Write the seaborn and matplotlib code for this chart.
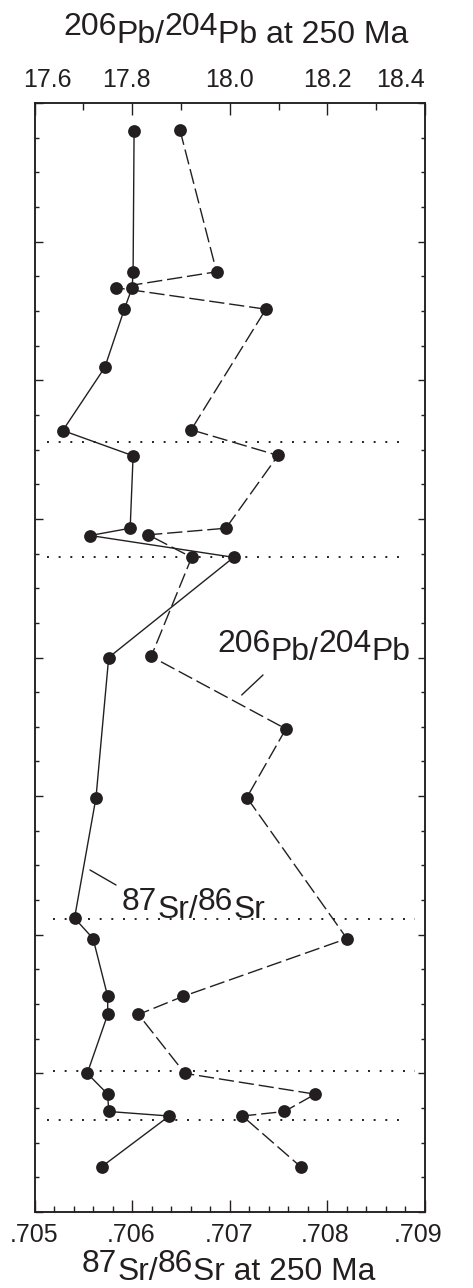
import matplotlib
matplotlib.use("Agg")
import matplotlib.pyplot as plt
from matplotlib.lines import Line2D
from matplotlib.ticker import MultipleLocator, FixedLocator
from matplotlib.transforms import ScaledTranslation
import seaborn as sns
import pandas as pd

# ---------------- data ----------------
sr_depth = [0.81, 4.87, 5.33, 5.95, 7.63, 9.45, 10.18, 12.27, 12.48, 13.11, 16.00,
            20.04, 23.52, 24.11, 25.78, 26.30, 28.00, 28.60, 29.10, 29.23, 30.69]
sr_ratio = [0.70602, 0.70601, 0.70600, 0.70592, 0.70572, 0.70529, 0.70601, 0.70598,
            0.70557, 0.70704, 0.70576, 0.70563, 0.70541, 0.70560, 0.70575, 0.70575,
            0.70554, 0.70575, 0.70576, 0.70638, 0.70569]

pb_depth = [0.78, 4.87, 5.33, 5.95, 9.43, 10.17, 12.27, 12.46, 13.11, 15.97, 18.06,
            20.04, 24.11, 25.78, 26.30, 28.00, 28.60, 29.10, 29.23, 30.69]
pb_ratio = [17.898, 17.973, 17.767, 18.074, 17.921, 18.099, 17.992, 17.833, 17.922,
            17.839, 18.115, 18.035, 18.240, 17.904, 17.813, 17.908, 18.175, 18.112,
            18.026, 18.145]

boundary_depths = [9.79, 13.11, 23.55, 27.92, 29.34]

sr_ticks = [0.705, 0.706, 0.707, 0.708, 0.709]
sr_tick_labels = [".705", ".706", ".707", ".708", ".709"]
pb_ticks = [17.6, 17.8, 18.0, 18.2, 18.4]
pb_tick_labels = ["17.6", "17.8", "18.0", "18.2", "18.4"]

# ---------------- style ----------------
sns.set_theme(style="white")
plt.rcParams["font.family"] = ["Liberation Sans", "DejaVu Sans"]
INK = "#231f20"
W, H = 473, 1288

fig = plt.figure(figsize=(W / 100, H / 100), dpi=100)
ax = fig.add_axes([34.5 / W, 1 - 1212 / H, 390.5 / W, (1212 - 103) / H])
ax2 = ax.twiny()
ax.set_zorder(ax2.get_zorder() + 1)
ax.patch.set_visible(False)

sr_df = pd.DataFrame({"sr": sr_ratio, "depth": sr_depth})
pb_df = pd.DataFrame({"pb": pb_ratio, "depth": pb_depth})

sns.lineplot(data=pb_df, x="pb", y="depth", sort=False, estimator=None, ax=ax2,
             color=INK, lw=1.0, ls=(0, (11, 3.5)), marker="o", ms=9.2,
             markeredgewidth=0, markerfacecolor=INK)
sns.lineplot(data=sr_df, x="sr", y="depth", sort=False, estimator=None, ax=ax,
             color=INK, lw=1.0, ls="-", marker="o", ms=9.2,
             markeredgewidth=0, markerfacecolor=INK)

spans = [(0.031, 0.956), (0.031, 0.956), (0.047, 0.974), (0.047, 0.974), (0.031, 0.956)]
for d, (x0, x1) in zip(boundary_depths, spans):
    ax.axhline(d, xmin=x0, xmax=x1, color=INK, lw=1.4, ls=(0, (1, 5)), zorder=1)

ax.set_xlim(0.705, 0.709)
ax2.set_xlim(17.6, 18.4)
ax.set_ylim(32, 0)
ax2.set_ylim(32, 0)

for a in (ax, ax2):
    a.set_xlabel("")
    a.set_ylabel("")
    for s in a.spines.values():
        s.set_linewidth(1.1)
        s.set_color(INK)

ax.xaxis.set_major_locator(FixedLocator(sr_ticks))
ax.set_xticklabels(sr_tick_labels)
ax.xaxis.set_minor_locator(MultipleLocator(0.0002))
ax2.xaxis.set_major_locator(FixedLocator(pb_ticks))
ax2.set_xticklabels(pb_tick_labels)
ax2.xaxis.set_minor_locator(MultipleLocator(0.1))
ax.yaxis.set_major_locator(MultipleLocator(4))
ax.yaxis.set_minor_locator(MultipleLocator(1))

ax.tick_params(axis="x", which="both", direction="in", bottom=True, top=False,
               labelsize=18, pad=8, colors=INK, width=1.0)
ax.tick_params(axis="x", which="major", length=8.6)
ax.tick_params(axis="x", which="minor", length=4.2)
ax2.tick_params(axis="x", which="both", direction="in", top=True, bottom=False,
                labeltop=True, labelbottom=False, labelsize=18, pad=8, colors=INK, width=1.0)
ax2.tick_params(axis="x", which="major", length=8.4)
ax2.tick_params(axis="x", which="minor", length=4.8)
ax2.tick_params(axis="y", left=False, right=False, labelleft=False, labelright=False)
ax.tick_params(axis="y", which="both", direction="in", left=True, right=True,
               labelleft=False, labelright=False, colors=INK, width=1.0)
ax.tick_params(axis="y", which="major", length=5.4)
ax.tick_params(axis="y", which="minor", length=3.2)
ax.grid(False)
ax2.grid(False)

# nudge tick labels as in the reference (end labels kept inside)
for lab, dx in zip(ax2.get_xticklabels(), [13, -6, 0, 0, -25]):
    lab.set_transform(lab.get_transform() + ScaledTranslation(dx / 100, 0, fig.dpi_scale_trans))
for lab, dx in zip(ax.get_xticklabels(), [0, -1, -1, -2, -7]):
    lab.set_transform(lab.get_transform() + ScaledTranslation(dx / 100, 0, fig.dpi_scale_trans))

# ---------------- rich text (raised isotope masses) ----------------
renderer = fig.canvas.get_renderer()


def rich_text(pieces, left_px, base_px, width_px, rise_em=0.24):
    fs0 = 20
    objs, widths = [], []
    for s, sup in pieces:
        t = fig.text(0, 0, s, fontsize=fs0, color=INK, va="baseline", ha="left")
        widths.append(t.get_window_extent(renderer).width)
        objs.append(t)
    k = width_px / sum(widths)
    fs = fs0 * k
    x = left_px
    for t, w, (s, sup) in zip(objs, widths, pieces):
        t.set_fontsize(fs)
        y = base_px - (rise_em * fs * 100 / 72 if sup else 0)
        t.set_position((x / W, 1 - y / H))
        x += w * k


rich_text([("206", True), ("Pb/", False), ("204", True), ("Pb at 250 Ma", False)],
          63, 43, 345)
rich_text([("87", True), ("Sr/", False), ("86", True), ("Sr at 250 Ma", False)],
          82, 1280, 293)
rich_text([("206", True), ("Pb/", False), ("204", True), ("Pb", False)],
          217, 660, 193)
rich_text([("87", True), ("Sr/", False), ("86", True), ("Sr", False)],
          122, 918, 143)

# leader lines for the in-plot labels
for (x0, y0), (x1, y1) in [((263, 675), (241.7, 695)), ((90, 870), (116, 885))]:
    fig.add_artist(Line2D([x0 / W, x1 / W], [1 - y0 / H, 1 - y1 / H],
                          transform=fig.transFigure, color=INK, lw=1.0))

fig.savefig("out.png", dpi=100)
